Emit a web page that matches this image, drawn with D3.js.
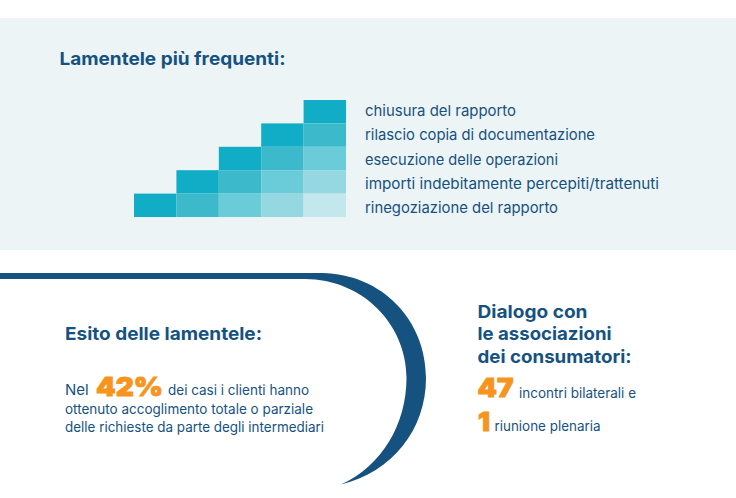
<!DOCTYPE html>
<html><head><meta charset="utf-8">
<script src="https://d3js.org/d3.v7.min.js"></script>
<style>html,body{margin:0;padding:0;background:#fff}svg{display:block}text{font-family:Inter,"Liberation Sans",sans-serif}</style>
</head><body><svg id="c" width="736" height="498"></svg>
<script>
const categories=["chiusura del rapporto","rilascio copia di documentazione","esecuzione delle operazioni","importi indebitamente percepiti/trattenuti","rinegoziazione del rapporto"];
const stepCounts=[1,2,3,4,5];
const shades=["#11acc5","#3db9cc","#6accd9","#95d8e2","#c2e7ed"];
const columns=[0,1,2,3,4];
const navy="#15527f", orange="#f7941d";
const svg=d3.select("#c");
svg.append("rect").attr("x",0).attr("y",18).attr("width",736).attr("height",232).attr("fill","#edf4f6");
const txt=(s,x,y,size,weight,fill,len)=>{const t=svg.append("text").attr("x",x).attr("y",y).attr("font-size",size).attr("font-weight",weight).attr("fill",fill).text(s);
 if(len)t.attr("textLength",len).attr("lengthAdjust","spacingAndGlyphs");return t;};
const heavy=t=>t.attr("stroke",orange).attr("stroke-width",0.9);
txt("Lamentele più frequenti:",59.5,65,18,700,navy,226);
const x=d3.scaleBand().domain(columns).range([134,346]);
const y=d3.scaleBand().domain(categories).range([100,217]);
const labelY=d3.scalePoint().domain(categories).range([116,213.2]);
const labelWidths=[151,230,193,294,193];
categories.forEach((c,r)=>{
 const n=stepCounts[r];
 svg.selectAll(null).data(d3.range(n)).enter().append("rect")
  .attr("x",i=>x(columns[columns.length-n+i])).attr("y",y(c)).attr("width",x.bandwidth()).attr("height",y.bandwidth())
  .attr("fill",i=>shades[i]);
 txt(c,365,labelY(c),15,400,navy,labelWidths[r]);
});
const p=d3.path();
p.moveTo(0,273);p.lineTo(322,273);
p.bezierCurveTo(382,274,426,320,426,378);
p.bezierCurveTo(426,430,392,472,341,484.5);
p.bezierCurveTo(382,466,406.5,424,406.5,378);
p.bezierCurveTo(406.5,324,362,279,305,279);
p.lineTo(0,279);p.closePath();
svg.append("path").attr("d",p.toString()).attr("fill",navy);
txt("Esito delle lamentele:",65,340,18,700,navy,197);
txt("Nel",65,395,15,400,navy);
heavy(txt("42%",96,395.5,26,900,orange,67));
txt("dei casi i clienti hanno",168,395,14,400,navy,141);
txt("ottenuto accoglimento totale o parziale",65,414,14,400,navy,248);
txt("delle richieste da parte degli intermediari",65,432,14,400,navy,259);
txt("Dialogo con",477.5,318,18,700,navy,110);
txt("le associazioni",477.5,340,18,700,navy,134);
txt("dei consumatori:",477.5,363,18,700,navy,154);
heavy(txt("47",477.5,397,26,900,orange,36));
txt("incontri bilaterali e",519,397.5,14,400,navy,117);
heavy(txt("1",478,431,26,900,orange,12));
txt("riunione plenaria",494.5,431,14,400,navy,106);
</script></body></html>
